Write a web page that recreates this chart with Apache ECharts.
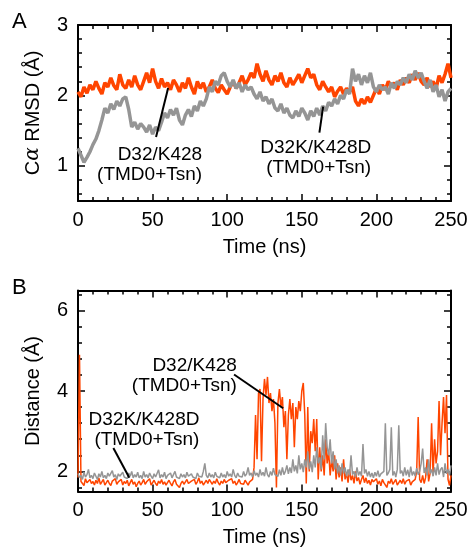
<!DOCTYPE html>
<html><head><meta charset="utf-8">
<script src="https://cdn.jsdelivr.net/npm/echarts@6/dist/echarts.min.js"></script>
<style>html,body{margin:0;padding:0;background:#fff}#c{width:471px;height:552px}</style>
</head><body><div id="c"></div>
<script>
// ---- data ----
const timeStepA = 2;   // ns between samples in panel A
const rmsdWT = [
 2.05,1.98,2.12,2.03,2.15,2.08,2.2,2.1,2.02,2.18,
 2.12,2.25,2.14,2.08,2.3,2.15,2.1,2.22,2.12,2.28,
 2.15,2.08,2.2,2.32,2.18,2.38,2.2,2.1,2.24,2.12,
 2.18,2.08,2.22,2.15,2.05,2.18,2.1,2.25,2.12,2.02,
 2.2,2.1,2.18,2.05,2.12,2.22,2.1,2.04,2.15,2.08,
 2.02,2.12,2.2,2.1,2.18,2.28,2.15,2.22,2.32,2.25,
 2.45,2.3,2.2,2.35,2.22,2.15,2.28,2.2,2.32,2.18,
 2.12,2.25,2.15,2.22,2.3,2.18,2.28,2.38,2.25,2.3,
 2.15,2.08,2.2,2.12,2.05,2.12,1.98,2.06,2.12,2.02,
 2.1,2.05,2.12,1.92,1.85,1.95,1.88,1.98,1.9,2.0,
 2.1,2.02,2.15,2.08,2.2,2.12,2.18,2.08,2.22,2.15,
 2.25,2.18,2.3,2.22,2.32,2.2,2.15,2.25,2.12,2.2,
 2.1,2.28,2.18,2.3,2.45,2.25
];
const rmsdMut = [
 1.25,1.15,1.05,1.12,1.2,1.3,1.38,1.5,1.65,1.82,
 1.75,1.88,1.8,1.92,1.85,1.95,1.98,1.8,1.55,1.62,
 1.52,1.6,1.55,1.48,1.58,1.45,1.55,1.5,1.62,1.75,
 1.68,1.8,1.72,1.82,1.65,1.58,1.72,1.8,1.7,1.85,
 1.78,1.92,1.85,1.95,2.12,2.05,2.2,2.15,2.28,2.32,
 2.2,2.12,2.22,2.1,2.18,2.05,2.15,2.08,2.12,2.02,
 1.95,2.05,1.92,1.98,1.88,1.95,1.82,1.78,1.88,1.75,
 1.82,1.72,1.68,1.78,1.7,1.82,1.75,1.65,1.78,1.7,
 1.82,1.72,1.85,1.78,1.9,1.85,1.95,1.88,2.0,1.95,
 2.08,2.02,2.38,2.2,2.3,2.15,2.28,2.18,2.32,2.12,
 2.05,2.15,2.08,2.12,2.02,2.18,2.1,2.2,2.15,2.25,
 2.18,2.3,2.22,2.35,2.25,2.32,2.2,2.1,2.22,2.05,
 2.15,1.98,2.08,1.92,2.05,2.1
];
const timeStepB = 1;   // ns between samples in panel B
const distWT = [
 1.85,4.9,1.75,1.78,1.65,1.82,1.72,1.68,1.8,1.7,
 1.75,1.66,1.78,1.7,1.84,1.68,1.74,1.8,1.66,1.72,
 1.78,1.7,1.65,1.76,1.72,1.82,1.68,1.74,1.7,1.8,
 1.66,1.75,1.7,1.78,1.64,1.72,1.8,1.68,1.74,1.62,
 1.7,1.76,1.66,1.72,1.8,1.68,1.74,1.7,1.82,1.66,
 1.72,1.78,1.7,1.65,1.76,1.7,1.8,1.68,1.74,1.66,
 1.72,1.78,1.7,1.64,1.74,1.8,1.68,1.72,1.6,1.7,
 1.76,1.68,1.74,1.8,1.7,1.66,1.76,1.72,1.8,1.68,
 1.74,1.84,1.7,1.76,1.66,1.72,1.78,1.7,1.8,1.74,
 1.68,1.76,1.7,1.82,1.72,1.66,1.76,1.7,1.8,1.72,
 1.68,1.78,1.74,1.82,1.7,1.76,1.66,1.72,1.8,1.7,
 1.74,1.68,1.78,1.72,1.66,1.74,1.7,1.8,2.1,3.4,
 2.3,3.95,4.05,2.25,3.8,4.3,3.9,4.35,3.7,3.95,
 3.5,3.8,3.2,1.6,3.7,4.05,3.6,3.85,3.1,3.5,
 2.3,3.4,3.8,3.3,3.7,2.6,3.6,3.3,3.75,3.5,
 4.0,4.2,3.4,1.7,3.6,2.0,3.0,2.7,3.3,2.5,
 3.3,1.8,2.6,2.0,2.4,1.9,2.8,2.2,2.5,1.9,
 2.3,2.0,2.4,1.8,2.2,1.85,2.1,1.75,2.3,1.8,
 1.95,1.72,2.05,1.78,1.9,1.7,2.0,1.76,1.85,1.68,
 1.8,1.9,1.72,1.84,1.7,1.78,1.66,1.8,1.74,1.7,
 1.82,1.68,1.76,1.64,1.8,1.72,1.68,1.6,1.76,1.7,
 1.82,1.68,1.74,1.8,1.66,1.72,1.78,1.7,1.82,1.68,
 1.76,1.72,1.8,1.66,1.74,1.7,1.8,2.0,3.35,1.8,
 1.72,1.9,1.7,1.85,2.3,1.75,1.95,3.2,1.9,2.8,
 2.2,2.5,3.75,2.4,3.2,3.85,2.95,3.9,1.8,1.65,
 1.9
];
const distMut = [
 1.95,1.85,1.9,1.8,1.98,1.86,1.92,2.05,1.84,1.9,
 1.82,1.96,1.88,1.8,1.94,1.86,2.0,1.84,1.9,1.82,
 1.96,1.88,1.84,2.02,1.86,1.92,1.8,1.94,1.88,1.84,
 1.98,1.86,1.9,1.82,1.96,1.88,2.0,1.84,1.92,1.86,
 1.98,1.84,1.9,1.82,2.0,1.86,1.92,1.84,1.96,1.88,
 1.82,1.94,1.86,1.9,2.04,1.84,1.92,1.86,1.98,1.82,
 1.9,1.86,1.96,1.84,1.92,2.0,1.86,1.9,1.82,1.94,
 1.86,1.92,1.84,1.98,1.88,1.84,1.94,1.86,1.9,1.82,
 1.96,1.88,1.92,1.86,2.0,2.2,1.9,1.84,1.96,1.86,
 1.92,1.84,1.98,1.88,1.9,1.84,1.96,1.86,1.92,1.84,
 2.0,1.88,1.94,1.86,2.05,1.9,1.84,1.96,1.88,1.92,
 1.86,2.0,1.88,1.94,2.1,1.9,1.96,1.86,2.02,1.9,
 1.96,1.86,2.05,1.9,1.98,1.88,2.1,1.92,1.86,2.0,
 1.9,2.08,1.92,1.96,1.88,2.04,1.9,2.1,1.92,2.0,
 2.15,1.94,2.1,1.96,2.3,2.0,2.15,1.95,2.4,2.05,
 2.2,1.98,2.3,2.1,2.5,2.05,2.25,1.98,2.4,2.1,
 2.6,2.2,2.35,2.05,2.9,2.3,3.2,2.6,2.4,2.8,
 2.2,2.5,2.05,2.3,1.95,2.15,1.9,2.2,1.95,2.1,
 1.88,2.05,1.9,2.4,1.92,2.0,1.86,2.1,1.9,2.0,
 1.88,2.68,1.95,2.05,1.88,2.0,1.86,1.96,1.84,1.98,
 1.88,2.02,1.86,1.94,1.9,2.0,3.2,1.9,1.96,2.05,
 3.1,1.9,2.0,1.86,2.05,3.15,1.95,2.02,1.88,2.1,
 1.9,2.04,1.86,2.12,1.9,2.0,1.88,2.08,1.92,2.0,
 2.2,2.57,1.96,2.1,1.9,2.3,1.95,2.05,1.88,2.1,
 1.9,2.2,1.92,2.05,2.1,1.86,2.2,1.94,2.05,1.9,
 2.15
];
const yMajorA = [1, 2, 3];
const yMinorA = [0.6, 0.8, 1.2, 1.4, 1.6, 1.8, 2.2, 2.4, 2.6, 2.8];
const yMajorB = [2, 4, 6];
const yMinorB = [1.6, 2.4, 2.8, 3.2, 3.6, 4.4, 4.8, 5.2, 5.6, 6.4];

// ---- styling ----
const F = '"Liberation Sans", Arial, sans-serif';
const ORANGE = '#ff4500', GRAY = '#959595';

function xAx(g, pos, labels) {
  return {
    type: 'value', gridIndex: g, position: pos, min: 0, max: 250, interval: 50,
    axisLine: { show: true, onZero: false, lineStyle: { color: '#000', width: 2 } },
    axisTick: { show: true, inside: true, length: 7, lineStyle: { color: '#000', width: 1.5 } },
    minorTick: { show: true, splitNumber: 5, length: 4, lineStyle: { color: '#000', width: 1.5 } },
    splitLine: { show: false }, minorSplitLine: { show: false },
    axisLabel: { show: labels, margin: 9, fontSize: 20, color: '#000', fontFamily: F },
    name: labels ? 'Time (ns)' : '', nameLocation: 'middle', nameGap: 36,
    nameTextStyle: { fontSize: 20, color: '#000', fontFamily: F }
  };
}
function yAx(g, pos, min, max, ticks, major, name) {
  return {
    type: 'value', gridIndex: g, position: pos, min: min, max: max,
    axisLine: { show: major, onZero: false, lineStyle: { color: '#000', width: 2 } },
    axisTick: { show: true, inside: true, length: major ? 7 : 4, customValues: ticks, lineStyle: { color: '#000', width: 1.5 } },
    axisLabel: { show: major && pos === 'left', customValues: ticks, margin: 10, fontSize: 20, color: '#000', fontFamily: F },
    splitLine: { show: false },
    name: name || '', nameLocation: 'middle', nameGap: 35,
    nameTextStyle: { fontSize: 20, color: '#000', fontFamily: F,
      rich: { a: { fontSize: 20, fontStyle: 'italic', fontFamily: '"DejaVu Serif", serif', color: '#000' },
              t: { fontSize: 20, fontFamily: F, color: '#000' } } }
  };
}
function ser(xi, yi, step, vals, color, w) {
  return { type: 'line', xAxisIndex: xi, yAxisIndex: yi, showSymbol: false, silent: true,
    data: vals.map((v, i) => [i * step, v]),
    lineStyle: { color: color, width: w }, itemStyle: { color: color }, animation: false };
}

const chart = echarts.init(document.getElementById('c'), null, { renderer: 'canvas' });
const option = {
  backgroundColor: '#fff',
  animation: false,
  grid: [
    { left: 78, top: 25, width: 373, height: 176 },
    { left: 78, top: 290.5, width: 373, height: 201 }
  ],
  xAxis: [xAx(0, 'bottom', true), xAx(0, 'top', false), xAx(1, 'bottom', true), xAx(1, 'top', false)],
  yAxis: [
    yAx(0, 'left', 0.5, 3, yMajorA, true, '{t|C}{a|α}{t| RMSD (Å)}'),
    yAx(0, 'right', 0.5, 3, yMajorA, true),
    yAx(0, 'left', 0.5, 3, yMinorA, false),
    yAx(0, 'right', 0.5, 3, yMinorA, false),
    yAx(1, 'left', 1.5, 6.5, yMajorB, true, 'Distance (Å)'),
    yAx(1, 'right', 1.5, 6.5, yMajorB, true),
    yAx(1, 'left', 1.5, 6.5, yMinorB, false),
    yAx(1, 'right', 1.5, 6.5, yMinorB, false)
  ],
  series: [
    ser(0, 0, timeStepA, rmsdWT, ORANGE, 3.5),
    ser(0, 0, timeStepA, rmsdMut, GRAY, 3.5),
    ser(2, 4, timeStepB, distWT, ORANGE, 1.5),
    ser(2, 4, timeStepB, distMut, GRAY, 1.5)
  ]
};
chart.setOption(option);

// ---- annotations (data coordinates) ----
const notes = [
  { g: [0, 0], text: 'D32/K428\n(TMD0+Tsn)', at: [83.2, 1.01], ptr: [[52.3, 1.41], [60.4, 2.105]] },
  { g: [0, 0], text: 'D32K/K428D\n(TMD0+Tsn)', at: [196.5, 1.11], ptr: [[161.8, 1.47], [164.3, 1.84]] },
  { g: [2, 4], text: 'D32/K428\n(TMD0+Tsn)', at: [106.5, 4.38], ptr: [[104.6, 4.41], [137.5, 3.57]] },
  { g: [2, 4], text: 'D32K/K428D\n(TMD0+Tsn)', at: [81.4, 3.04], ptr: [[23.7, 2.58], [34.4, 1.84]] }
];
const gfx = [
  { type: 'text', left: 12, top: 11, style: { text: 'A', font: '22px ' + F, fill: '#000' } },
  { type: 'text', left: 12, top: 277, style: { text: 'B', font: '22px ' + F, fill: '#000' } }
];
notes.forEach(n => {
  const fin = { xAxisIndex: n.g[0], yAxisIndex: n.g[1] };
  const p = chart.convertToPixel(fin, n.at);
  const a = chart.convertToPixel(fin, n.ptr[0]);
  const b = chart.convertToPixel(fin, n.ptr[1]);
  gfx.push({ type: 'line', shape: { x1: a[0], y1: a[1], x2: b[0], y2: b[1] }, style: { stroke: '#000', lineWidth: 2 }, z: 100 });
  gfx.push({ type: 'text', x: p[0], y: p[1], z: 100,
    style: { text: n.text, font: '19px ' + F, fill: '#000', align: 'right', verticalAlign: 'middle', lineHeight: 20 } });
});
chart.setOption({ graphic: gfx });
</script></body></html>
